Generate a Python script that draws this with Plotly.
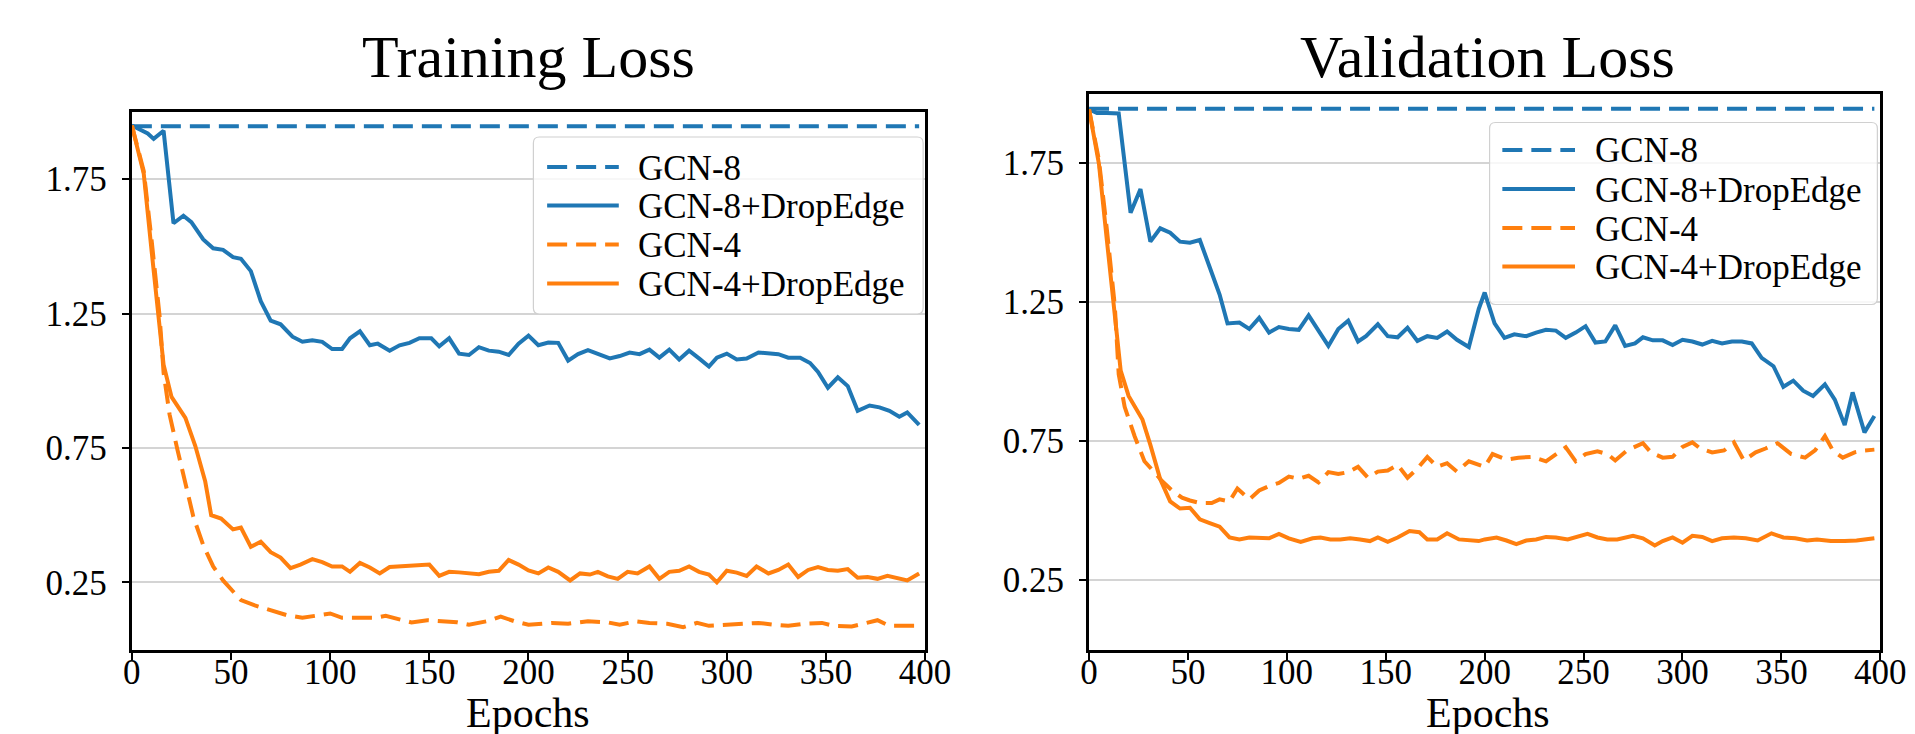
import plotly.graph_objects as go

# ---------------- data ----------------
series_names = ["GCN-8", "GCN-8+DropEdge", "GCN-4", "GCN-4+DropEdge"]
series_colors = ["#1f77b4", "#1f77b4", "#ff7f0e", "#ff7f0e"]
series_dashes = ["20px,9px", "solid", "20px,9px", "solid"]

panel_titles = ["Training Loss", "Validation Loss"]
x_label = "Epochs"
x_ticks = [0, 50, 100, 150, 200, 250, 300, 350, 400]
y_ticks = [0.25, 0.75, 1.25, 1.75]
y_tick_labels = ["0.25", "0.75", "1.25", "1.75"]

# ---- Training loss ----
train_gcn8_epochs = [0, 397]
train_gcn8_loss = [1.947, 1.947]

train_gcn8_de_epochs = [0, 8, 11, 16, 21, 26, 30, 36, 41, 46, 51, 55, 60, 65, 70, 75, 81, 86, 91, 96,
                        101, 106, 110, 115, 120, 124, 130, 135, 140, 145, 151, 155, 160, 165, 170, 175, 180, 185, 190, 195,
                        200, 205, 210, 215, 220, 225, 230, 235, 241, 246, 251, 256, 261, 266, 271, 276, 281, 286, 291, 295,
                        300, 305, 310, 316, 321, 326, 331, 337, 342, 346, 351, 356, 361, 366, 372, 377, 382, 387, 391, 397]
train_gcn8_de_loss = [1.95, 1.92, 1.90, 1.93, 1.586, 1.614, 1.59, 1.526, 1.493, 1.487, 1.46, 1.454, 1.408, 1.296, 1.224, 1.21, 1.164, 1.145, 1.151, 1.145,
                      1.118, 1.118, 1.158, 1.184, 1.132, 1.138, 1.112, 1.132, 1.141, 1.158, 1.158, 1.128, 1.158, 1.101, 1.096, 1.125, 1.112, 1.108, 1.096, 1.138,
                      1.168, 1.132, 1.142, 1.141, 1.075, 1.099, 1.114, 1.099, 1.083, 1.092, 1.105, 1.099, 1.116, 1.086, 1.116, 1.079, 1.112, 1.083, 1.053, 1.086,
                      1.101, 1.079, 1.083, 1.105, 1.103, 1.099, 1.086, 1.086, 1.066, 1.033, 0.974, 1.013, 0.980, 0.888, 0.908, 0.901, 0.888, 0.866, 0.882, 0.836]

train_gcn4_epochs = [0, 6, 10, 14, 16, 19, 23, 27, 31, 36, 41, 46, 51, 55, 62, 70, 78, 86, 93, 100,
                     106, 115, 123, 128, 136, 141, 149, 157, 164, 170, 179, 186, 193, 200,
                     212, 220, 230, 240, 246, 254, 261, 270, 278, 285, 291, 300, 308, 316, 324, 331, 339, 348, 354, 363,
                     369, 376, 382, 389, 397]
train_gcn4_loss = [1.95, 1.78, 1.52, 1.24, 1.03, 0.875, 0.743, 0.612, 0.494, 0.388, 0.309, 0.257, 0.217, 0.184, 0.164, 0.145, 0.128, 0.118, 0.125, 0.134,
                   0.118, 0.118, 0.118, 0.125, 0.109, 0.101, 0.109, 0.105, 0.101, 0.092, 0.105, 0.122, 0.105, 0.092,
                   0.099, 0.096, 0.105, 0.101, 0.092, 0.105, 0.099, 0.096, 0.083, 0.099, 0.088, 0.092, 0.096, 0.099, 0.092, 0.088, 0.096, 0.099, 0.088, 0.086,
                   0.096, 0.109, 0.088, 0.088, 0.088]

train_gcn4_de_epochs = [0, 6, 10, 13, 16, 20, 27, 32, 37, 40, 45, 51, 55, 60, 65, 70, 75, 80, 85, 91,
                        96, 101, 106, 110, 115, 120, 125, 130, 135, 140, 145, 150, 155, 160, 165, 170, 175, 180, 185, 190, 195,
                        200, 205, 210, 215, 221, 226, 231, 235, 240, 245, 250, 255, 261, 266, 271, 276, 281, 286, 291, 295,
                        300, 305, 310, 315, 321, 326, 331, 336, 341, 346, 351, 356, 361, 366, 371, 376, 381, 386, 391, 397]
train_gcn4_de_loss = [1.95, 1.77, 1.48, 1.27, 1.06, 0.94, 0.862, 0.757, 0.625, 0.50, 0.487, 0.447, 0.454, 0.382, 0.401, 0.362, 0.342, 0.303, 0.316, 0.336,
                      0.325, 0.309, 0.309, 0.289, 0.322, 0.305, 0.283, 0.307, 0.309, 0.309, 0.314, 0.316, 0.274, 0.289, 0.287, 0.283, 0.280, 0.289, 0.293, 0.333, 0.316,
                      0.294, 0.283, 0.305, 0.289, 0.257, 0.283, 0.279, 0.289, 0.272, 0.263, 0.289, 0.283, 0.309, 0.263, 0.289, 0.293, 0.309, 0.289, 0.279, 0.25,
                      0.293, 0.286, 0.274, 0.309, 0.283, 0.296, 0.316, 0.270, 0.296, 0.307, 0.296, 0.293, 0.299, 0.267, 0.270, 0.263, 0.274, 0.267, 0.257, 0.283]

# ---- Validation loss ----
val_gcn8_epochs = [0, 397]
val_gcn8_loss = [1.945, 1.945]

val_gcn8_de_epochs = [0, 4, 9, 15, 21, 26, 31, 36, 41, 46, 51, 56, 61, 66, 70, 76, 81, 86, 91, 96,
                      101, 106, 111, 116, 121, 126, 131, 136, 140, 146, 151, 156, 161, 166, 171, 176, 181, 186, 192, 197,
                      200, 205, 210, 215, 221, 226, 231, 236, 241, 246, 251, 256, 261, 266, 271, 276, 280, 285, 290, 295,
                      300, 305, 310, 315, 320, 325, 330, 335, 340, 346, 351, 356, 361, 366, 372, 377, 382, 386, 392, 397]
val_gcn8_de_loss = [1.943, 1.93, 1.93, 1.928, 1.571, 1.656, 1.467, 1.515, 1.499, 1.467, 1.463, 1.473, 1.375, 1.277, 1.173, 1.176, 1.153, 1.193, 1.14, 1.16,
                    1.153, 1.15, 1.202, 1.147, 1.092, 1.153, 1.183, 1.108, 1.127, 1.17, 1.127, 1.123, 1.157, 1.11, 1.127, 1.121, 1.144, 1.114, 1.088, 1.225,
                    1.284, 1.173, 1.121, 1.134, 1.127, 1.14, 1.15, 1.147, 1.121, 1.14, 1.163, 1.104, 1.108, 1.166, 1.092, 1.101, 1.123, 1.112, 1.112, 1.095,
                    1.114, 1.108, 1.097, 1.11, 1.101, 1.108, 1.108, 1.101, 1.049, 1.019, 0.945, 0.967, 0.931, 0.912, 0.954, 0.899, 0.807, 0.925, 0.781, 0.84]

val_gcn4_epochs = [0, 5, 9, 13, 15, 18, 23, 28, 33, 37, 42, 47, 51, 56, 62, 66, 71, 75, 81, 86,
                   91, 96, 101, 106, 111, 116, 121, 126, 131, 136, 141, 146, 151, 156, 161, 166, 171, 176, 181, 186, 192, 197,
                   200, 204, 211, 217, 224, 231, 236, 241, 246, 251, 257, 262, 266, 272, 280, 284, 290, 295, 300, 305,
                   309, 315, 321, 326, 331, 337, 342, 348, 355, 362, 367, 372, 376, 381, 387, 392, 397]
val_gcn4_loss = [1.943, 1.76, 1.512, 1.238, 0.99, 0.873, 0.768, 0.677, 0.638, 0.605, 0.572, 0.546, 0.536, 0.527, 0.527, 0.54, 0.533, 0.579, 0.54, 0.572,
                 0.588, 0.599, 0.622, 0.614, 0.625, 0.601, 0.638, 0.631, 0.638, 0.657, 0.618, 0.64, 0.644, 0.664, 0.618, 0.651, 0.693, 0.657, 0.67, 0.64, 0.677, 0.664,
                 0.657, 0.703, 0.683, 0.69, 0.693, 0.677, 0.703, 0.727, 0.677, 0.703, 0.713, 0.703, 0.680, 0.716, 0.742, 0.709, 0.69, 0.693, 0.729, 0.745,
                 0.723, 0.709, 0.716, 0.745, 0.680, 0.709, 0.723, 0.742, 0.703, 0.69, 0.716, 0.768, 0.716, 0.69, 0.709, 0.716, 0.719]

val_gcn4_de_epochs = [0, 5, 9, 13, 16, 20, 27, 31, 36, 41, 46, 51, 56, 61, 66, 71, 76, 81, 86, 91,
                      96, 101, 107, 113, 117, 122, 127, 132, 137, 142, 146, 151, 156, 162, 167, 171, 176, 181, 187, 192, 197,
                      200, 206, 211, 216, 221, 226, 231, 236, 242, 246, 252, 257, 262, 267, 275, 280, 286, 290, 295, 300,
                      305, 310, 315, 320, 326, 332, 338, 345, 351, 357, 363, 368, 375, 382, 388, 397]
val_gcn4_de_loss = [1.943, 1.747, 1.473, 1.212, 1.003, 0.912, 0.827, 0.736, 0.612, 0.533, 0.507, 0.51, 0.468, 0.455, 0.442, 0.403, 0.396, 0.403, 0.4, 0.4,
                    0.416, 0.4, 0.387, 0.4, 0.403, 0.396, 0.396, 0.4, 0.396, 0.39, 0.403, 0.387, 0.403, 0.426, 0.422, 0.396, 0.396, 0.418, 0.396, 0.392, 0.39,
                    0.396, 0.403, 0.392, 0.379, 0.392, 0.396, 0.405, 0.403, 0.396, 0.403, 0.416, 0.403, 0.396, 0.396, 0.409, 0.4, 0.374, 0.39, 0.403, 0.384,
                    0.409, 0.405, 0.39, 0.4, 0.403, 0.4, 0.392, 0.418, 0.403, 0.4, 0.392, 0.396, 0.39, 0.39, 0.392, 0.4]

panels = [
    [(train_gcn8_epochs, train_gcn8_loss), (train_gcn8_de_epochs, train_gcn8_de_loss),
     (train_gcn4_epochs, train_gcn4_loss), (train_gcn4_de_epochs, train_gcn4_de_loss)],
    [(val_gcn8_epochs, val_gcn8_loss), (val_gcn8_de_epochs, val_gcn8_de_loss),
     (val_gcn4_epochs, val_gcn4_loss), (val_gcn4_de_epochs, val_gcn4_de_loss)],
]

# ---------------- layout helpers (pixel -> paper) ----------------
W, H = 1915, 734
FONT = "Liberation Serif"
LW = 4


def px(x):
    return x / W


def py(y):
    return 1 - y / H


# plot frames in pixels: (left, right, top, bottom)
frames = [(117, 925, 104, 641.5), (1092, 1898, 85.5, 641.5)]
# legend boxes: (left, right, top, bottom, swatch_x0, swatch_x1, text_x, row_y list)
legend_boxes = [
    (526, 923, 129, 306, 540, 613, 632, [159, 197.5, 236.5, 275.5]),
    (1500, 1895, 114.5, 296.5, 1513, 1587, 1606, [142, 181, 220, 258.5]),
]
title_x = [521, 1498]

fig = go.Figure()

for i, panel in enumerate(panels):
    xa = "x" if i == 0 else "x2"
    ya = "y" if i == 0 else "y2"
    for (ep, loss), name, color, dash in zip(panel, series_names, series_colors, series_dashes):
        fig.add_trace(go.Scatter(
            x=ep, y=loss, mode="lines", name=name, xaxis=xa, yaxis=ya,
            line=dict(color=color, width=LW, dash=dash),
            showlegend=False,
        ))

axis_common_x = dict(
    range=[0, 400], tickmode="array", tickvals=x_ticks,
    ticks="outside", ticklen=7, tickwidth=1.5, tickcolor="black",
    showline=True, linecolor="black", linewidth=3, mirror=True,
    showgrid=False, zeroline=False,
    tickfont=dict(family=FONT, size=35, color="black"),
    ticklabelstandoff=-18,
)
axis_common_y = dict(
    range=[0, 2], tickmode="array", tickvals=y_ticks, ticktext=y_tick_labels,
    ticks="outside", ticklen=7, tickwidth=1.5, tickcolor="black",
    showline=True, linecolor="black", linewidth=3, mirror=True,
    showgrid=True, gridcolor="#d4d4d4", gridwidth=2, zeroline=False,
    tickfont=dict(family=FONT, size=35, color="black"),
    ticklabelstandoff=8,
)

l0, r0, t0, b0 = frames[0]
l1, r1, t1, b1 = frames[1]
fig.update_layout(
    width=W, height=H,
    margin=dict(l=0, r=0, t=0, b=0),
    paper_bgcolor="white", plot_bgcolor="white",
    showlegend=False,
    xaxis=dict(domain=[px(l0), px(r0)], anchor="y", **axis_common_x),
    yaxis=dict(domain=[py(b0), py(t0)], anchor="x", **axis_common_y),
    xaxis2=dict(domain=[px(l1), px(r1)], anchor="y2", **axis_common_x),
    yaxis2=dict(domain=[py(b1), py(t1)], anchor="x2", **axis_common_y),
)

shapes = []
annotations = []
for i in range(2):
    l, r, t, b = frames[i]
    cx = title_x[i]
    annotations.append(dict(
        text=panel_titles[i], x=px(cx), y=py(49.5), xref="paper", yref="paper",
        xanchor="center", yanchor="middle", showarrow=False,
        font=dict(family=FONT, size=60, color="black"),
    ))
    annotations.append(dict(
        text=x_label, x=px(cx), y=py(705), xref="paper", yref="paper",
        xanchor="center", yanchor="middle", showarrow=False, borderpad=0,
        font=dict(family=FONT, size=42, color="black"),
    ))
    # legend box (rounded)
    bl, br, bt, bb, sx0, sx1, tx, rows = legend_boxes[i]
    rad = 6
    path = (f"M {px(bl + rad)},{py(bt)} L {px(br - rad)},{py(bt)} Q {px(br)},{py(bt)} {px(br)},{py(bt + rad)} "
            f"L {px(br)},{py(bb - rad)} Q {px(br)},{py(bb)} {px(br - rad)},{py(bb)} "
            f"L {px(bl + rad)},{py(bb)} Q {px(bl)},{py(bb)} {px(bl)},{py(bb - rad)} "
            f"L {px(bl)},{py(bt + rad)} Q {px(bl)},{py(bt)} {px(bl + rad)},{py(bt)} Z")
    shapes.append(dict(type="path", path=path, xref="paper", yref="paper",
                       fillcolor="rgba(255,255,255,0.8)", line=dict(color="#d0d0d0", width=1.2),
                       layer="above"))
    for name, color, dash, ry in zip(series_names, series_colors, series_dashes, rows):
        shapes.append(dict(type="line", xref="paper", yref="paper",
                           x0=px(sx0), x1=px(sx1), y0=py(ry), y1=py(ry),
                           line=dict(color=color, width=LW, dash=dash), layer="above"))
        annotations.append(dict(
            text=name, x=px(tx), y=py(ry + 1), xref="paper", yref="paper",
            xanchor="left", yanchor="middle", align="left", showarrow=False,
            borderpad=0,
            font=dict(family=FONT, size=35, color="black"),
        ))

fig.update_layout(shapes=shapes, annotations=annotations)
fig.write_html("out.html")
